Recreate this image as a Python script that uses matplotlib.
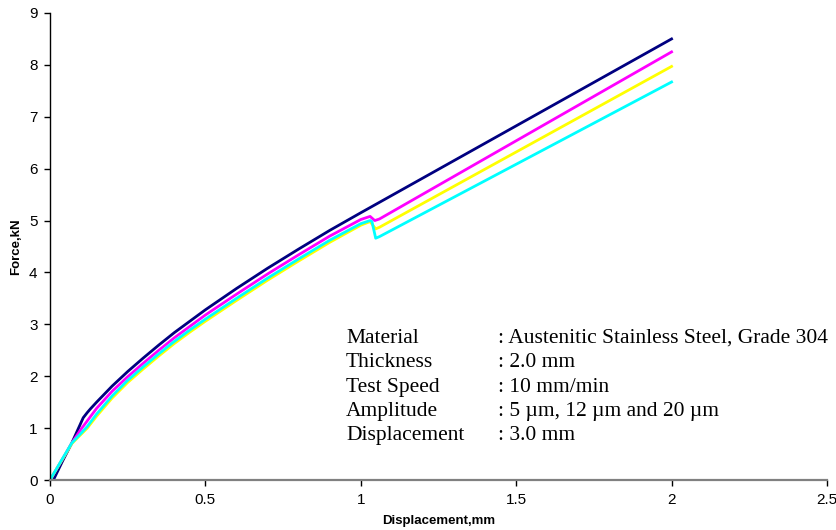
import matplotlib.pyplot as plt

# displacement (mm) / force (kN) curves, one per amplitude setting
x_navy = [0.011, 0.04, 0.07, 0.107, 0.12, 0.13, 0.15, 0.2, 0.25, 0.3, 0.35, 0.4, 0.45,
          0.5, 0.6, 0.7, 0.8, 0.9, 1.0, 1.2, 1.4, 1.6, 1.8, 2.0]
f_navy = [0.0, 0.36, 0.71, 1.2, 1.3, 1.37, 1.5, 1.81, 2.09, 2.35, 2.6, 2.84, 3.06,
          3.28, 3.69, 4.08, 4.45, 4.81, 5.15, 5.82, 6.49, 7.16, 7.83, 8.5]

x_magenta = [0.0, 0.04, 0.07, 0.1, 0.12, 0.15, 0.2, 0.25, 0.3, 0.35, 0.4, 0.45, 0.5,
             0.6, 0.7, 0.8, 0.9, 1.0, 1.03, 1.045, 1.06, 2.0]
f_magenta = [0.0, 0.4, 0.71, 0.98, 1.14, 1.38, 1.71, 1.99, 2.25, 2.5, 2.74, 2.96, 3.18,
             3.58, 3.97, 4.34, 4.7, 5.02, 5.08, 5.0, 5.03, 8.25]

x_yellow = [0.0, 0.04, 0.07, 0.1, 0.12, 0.15, 0.2, 0.25, 0.3, 0.35, 0.4, 0.45, 0.5,
            0.6, 0.7, 0.8, 0.9, 1.0, 1.03, 1.048, 1.06, 2.0]
f_yellow = [0.0, 0.4, 0.7, 0.88, 1.0, 1.23, 1.58, 1.88, 2.14, 2.39, 2.63, 2.85, 3.06,
            3.46, 3.85, 4.22, 4.58, 4.91, 4.98, 4.84, 4.87, 7.97]

x_cyan = [0.0, 0.04, 0.07, 0.1, 0.12, 0.15, 0.2, 0.25, 0.3, 0.35, 0.4, 0.45, 0.5,
          0.6, 0.7, 0.8, 0.9, 1.0, 1.03, 1.036, 1.048, 1.06, 2.0]
f_cyan = [0.0, 0.41, 0.71, 0.9, 1.03, 1.27, 1.62, 1.92, 2.18, 2.43, 2.67, 2.89, 3.1,
          3.5, 3.89, 4.26, 4.62, 4.94, 5.0, 4.98, 4.66, 4.69, 7.67]

info_keys = ["Material", "Thickness", "Test Speed", "Amplitude", "Displacement"]
info_vals = [": Austenitic Stainless Steel, Grade 304", ": 2.0 mm", ": 10 mm/min",
             ": 5 \u00b5m, 12 \u00b5m and 20 \u00b5m", ": 3.0 mm"]

fig = plt.figure(figsize=(8.37, 5.30), dpi=100)
ax = fig.add_axes([0.0597, 0.0943, 0.9283, 0.8812])

lw = 2.0
ax.plot(x_navy, f_navy, color="#000080", lw=lw, solid_joinstyle="round")
ax.plot(x_magenta, f_magenta, color="#FF00FF", lw=lw, solid_joinstyle="round")
ax.plot(x_yellow, f_yellow, color="#FFFF00", lw=lw, solid_joinstyle="round")
ax.plot(x_cyan, f_cyan, color="#00FFFF", lw=lw, solid_joinstyle="round")

ax.set_xlim(0, 2.5)
ax.set_ylim(0, 9)
ax.set_xticks([0, 0.5, 1, 1.5, 2, 2.5])
ax.set_xticklabels(["0", "0.5", "1", "1.5", "2", "2.5"])
ax.set_yticks(range(0, 10))

for s in ["top", "right"]:
    ax.spines[s].set_visible(False)
ax.spines["left"].set_color("black")
ax.spines["left"].set_linewidth(1.0)
ax.spines["bottom"].set_color("#808080")
ax.spines["bottom"].set_linewidth(1.6)
ax.tick_params(direction="out", length=4, width=1, colors="black",
               labelsize=11, pad=5)
for lab in ax.get_xticklabels() + ax.get_yticklabels():
    lab.set_family("Liberation Sans")

ax.set_xlabel("Displacement,mm", fontsize=9.5, fontweight="bold",
              family="Liberation Sans", labelpad=6)
ax.set_ylabel("Force,kN", fontsize=9.5, fontweight="bold",
              family="Liberation Sans", labelpad=5)

ax.text(0.381, 0.199, "\n".join(info_keys), transform=ax.transAxes,
        family="Liberation Serif", fontsize=15.5, va="center", ha="left",
        linespacing=1.38)
ax.text(0.5766, 0.199, "\n".join(info_vals), transform=ax.transAxes,
        family="Liberation Serif", fontsize=15.5, va="center", ha="left",
        linespacing=1.38)

fig.savefig("out.png", dpi=100)
